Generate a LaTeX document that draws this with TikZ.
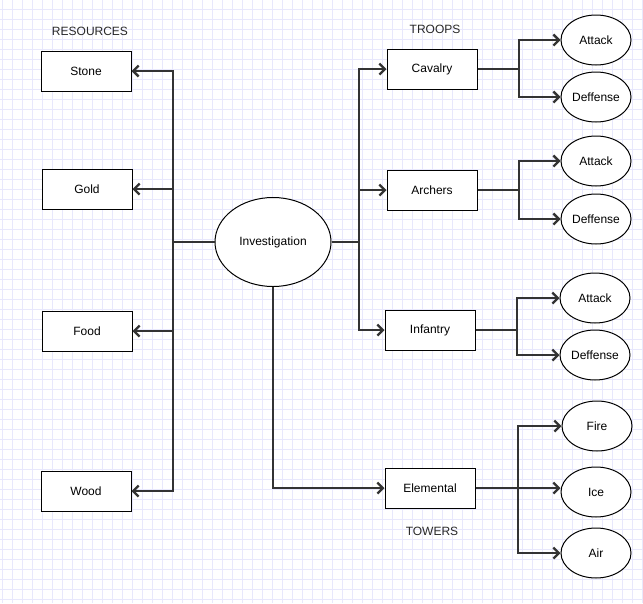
\documentclass[tikz,border=0pt]{standalone}
\usepackage{fontspec}
\setmainfont{Liberation Sans}
\usetikzlibrary{arrows.meta,shapes.geometric}
\definecolor{gridc}{RGB}{232,232,252}
\definecolor{edgec}{RGB}{51,51,51}
\definecolor{labelc}{RGB}{40,40,40}
\begin{document}
\begin{tikzpicture}[x=1pt,y=-1pt,
  every node/.style={font=\fontsize{12}{14}\selectfont},
  gridline/.style={draw=gridc,line width=0.9pt},
  box/.style={draw=black,fill=white,line width=1pt,minimum width=90pt,minimum height=40pt,inner sep=0pt,text=black},
  bigoval/.style={ellipse,draw=black,fill=white,line width=1pt,minimum width=116pt,minimum height=89pt,inner sep=0pt,text=black},
  oval/.style={ellipse,draw=black,fill=white,line width=1pt,minimum width=70pt,minimum height=50pt,inner sep=0pt,text=black},
  heading/.style={text=labelc},
  edge/.style={draw=edgec,line width=2.3pt,-{Straight Barb[length=5.5pt,width=11pt]}}]
% page and background grid
\fill[white] (0,0) rectangle (643,603);
\useasboundingbox (0,0) rectangle (643,603);
\foreach \gx in {2.5,12.5,...,642.5} \draw[gridline] (\gx,0) -- (\gx,603);
\foreach \gy in {9.5,19.5,...,602.5} \draw[gridline] (0,\gy) -- (643,\gy);

% headings
\node[heading] (hres) at (90,31) {RESOURCES};
\node[heading] (htroops) at (435,29) {TROOPS};
\node[heading] (htowers) at (432,531) {TOWERS};

% central node
\node[bigoval] (inv) at (273,242) {Investigation};

% resources
\node[box] (stone) at (86,71) {Stone};
\node[box] (gold) at (87,189) {Gold};
\node[box] (food) at (87,331) {Food};
\node[box] (wood) at (86,491) {Wood};

% troops and towers
\node[box] (cav) at (432,69) {Cavalry};
\node[box] (arch) at (432,190) {Archers};
\node[box] (inf) at (430,330) {Infantry};
\node[box] (elem) at (430,488) {Elemental};

% attributes
\node[oval] (cavatk) at (596,40) {Attack};
\node[oval] (cavdef) at (596,97) {Deffense};
\node[oval] (archatk) at (596,161) {Attack};
\node[oval] (archdef) at (596,219) {Deffense};
\node[oval] (infatk) at (595,298) {Attack};
\node[oval] (infdef) at (595,355) {Deffense};
\node[oval] (fire) at (597,426) {Fire};
\node[oval] (ice) at (596,492) {Ice};
\node[oval] (air) at (596,553) {Air};

% junction points of the orthogonal connectors
\coordinate (tl) at (173,242);
\coordinate (tr) at (359,242);
\coordinate (cb) at (519,69);
\coordinate (ab) at (519,190);
\coordinate (ib) at (517,330);
\coordinate (eb) at (518,488);

% investigation to resources
\draw[edge] (inv.west) -- (tl) |- (stone.east);
\draw[edge] (inv.west) -- (tl) |- (gold.east);
\draw[edge] (inv.west) -- (tl) |- (food.east);
\draw[edge] (inv.west) -- (tl) |- (wood.east);

% investigation to troops and towers
\draw[edge] (inv.east) -- (tr) |- (cav.west);
\draw[edge] (inv.east) -- (tr) |- (arch.west);
\draw[edge] (inv.east) -- (tr) |- (inf.west);
\draw[edge] (inv.south) |- (elem.west);

% units to attributes
\draw[edge] (cav.east) -- (cb) |- (cavatk.west);
\draw[edge] (cav.east) -- (cb) |- (cavdef.west);
\draw[edge] (arch.east) -- (ab) |- (archatk.west);
\draw[edge] (arch.east) -- (ab) |- (archdef.west);
\draw[edge] (inf.east) -- (ib) |- (infatk.west);
\draw[edge] (inf.east) -- (ib) |- (infdef.west);
\draw[edge] (elem.east) -- (eb) |- (fire.west);
\draw[edge] (elem.east) -- (elem.east -| ice.west);
\draw[edge] (elem.east) -- (eb) |- (air.west);
\end{tikzpicture}
\end{document}
